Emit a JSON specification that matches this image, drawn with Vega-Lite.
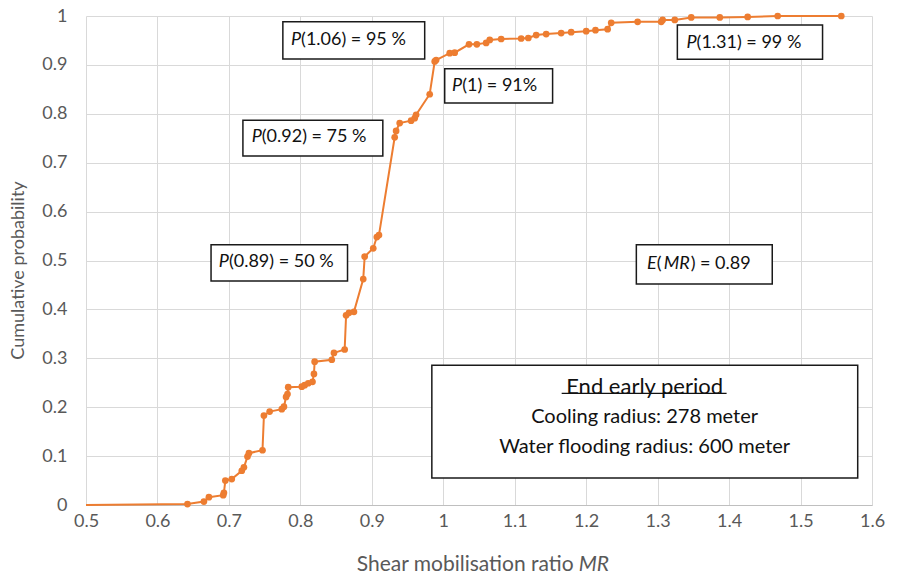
{
  "$schema": "https://vega.github.io/schema/vega-lite/v6.json",
  "width": 786,
  "height": 489,
  "autosize": {"type": "none"},
  "padding": {"left": 86, "top": 16, "right": 26, "bottom": 73},
  "background": "white",
  "config": {
    "view": {"stroke": null},
    "font": "Lato",
    "text": {"font": "Lato"}
  },
  "datasets": {
    "cdf": [
      {"mr": 0.5, "p": 0},
      {"mr": 0.642, "p": 0.002},
      {"mr": 0.665, "p": 0.007},
      {"mr": 0.672, "p": 0.016},
      {"mr": 0.692, "p": 0.02},
      {"mr": 0.693, "p": 0.025},
      {"mr": 0.695, "p": 0.05},
      {"mr": 0.704, "p": 0.053},
      {"mr": 0.718, "p": 0.07},
      {"mr": 0.721, "p": 0.077},
      {"mr": 0.726, "p": 0.099},
      {"mr": 0.728, "p": 0.106},
      {"mr": 0.747, "p": 0.112},
      {"mr": 0.749, "p": 0.183},
      {"mr": 0.757, "p": 0.191},
      {"mr": 0.774, "p": 0.196},
      {"mr": 0.777, "p": 0.201},
      {"mr": 0.78, "p": 0.221},
      {"mr": 0.782, "p": 0.227},
      {"mr": 0.783, "p": 0.241},
      {"mr": 0.802, "p": 0.242},
      {"mr": 0.806, "p": 0.245},
      {"mr": 0.811, "p": 0.249},
      {"mr": 0.817, "p": 0.252},
      {"mr": 0.819, "p": 0.268},
      {"mr": 0.82, "p": 0.293},
      {"mr": 0.844, "p": 0.297},
      {"mr": 0.847, "p": 0.311},
      {"mr": 0.862, "p": 0.318},
      {"mr": 0.864, "p": 0.388},
      {"mr": 0.868, "p": 0.393},
      {"mr": 0.875, "p": 0.395},
      {"mr": 0.888, "p": 0.462},
      {"mr": 0.89, "p": 0.508},
      {"mr": 0.902, "p": 0.525},
      {"mr": 0.907, "p": 0.548},
      {"mr": 0.91, "p": 0.552},
      {"mr": 0.932, "p": 0.752},
      {"mr": 0.934, "p": 0.765},
      {"mr": 0.939, "p": 0.781},
      {"mr": 0.955, "p": 0.786},
      {"mr": 0.96, "p": 0.791},
      {"mr": 0.962, "p": 0.798},
      {"mr": 0.981, "p": 0.84},
      {"mr": 0.988, "p": 0.907},
      {"mr": 0.99, "p": 0.91},
      {"mr": 1.009, "p": 0.924},
      {"mr": 1.016, "p": 0.925},
      {"mr": 1.036, "p": 0.942},
      {"mr": 1.047, "p": 0.942},
      {"mr": 1.06, "p": 0.945},
      {"mr": 1.065, "p": 0.951},
      {"mr": 1.081, "p": 0.953},
      {"mr": 1.109, "p": 0.954},
      {"mr": 1.119, "p": 0.955},
      {"mr": 1.13, "p": 0.961},
      {"mr": 1.144, "p": 0.963},
      {"mr": 1.165, "p": 0.965},
      {"mr": 1.179, "p": 0.967},
      {"mr": 1.2, "p": 0.969},
      {"mr": 1.213, "p": 0.971},
      {"mr": 1.23, "p": 0.973},
      {"mr": 1.235, "p": 0.986},
      {"mr": 1.272, "p": 0.988},
      {"mr": 1.305, "p": 0.988},
      {"mr": 1.307, "p": 0.992},
      {"mr": 1.324, "p": 0.992},
      {"mr": 1.347, "p": 0.997},
      {"mr": 1.387, "p": 0.997},
      {"mr": 1.426, "p": 0.998},
      {"mr": 1.468, "p": 1.0},
      {"mr": 1.557, "p": 1.0}
    ],
    "boxes": [
      {"x1": 0.7755, "x2": 0.974, "y1": 0.912, "y2": 0.988},
      {"x1": 1.002, "x2": 1.153, "y1": 0.822, "y2": 0.892},
      {"x1": 0.7196, "x2": 0.9154, "y1": 0.7137, "y2": 0.787},
      {"x1": 0.675, "x2": 0.866, "y1": 0.458, "y2": 0.532},
      {"x1": 1.3276, "x2": 1.5308, "y1": 0.9115, "y2": 0.9816},
      {"x1": 1.2702, "x2": 1.4604, "y1": 0.452, "y2": 0.532},
      {"x1": 0.984, "x2": 1.58, "y1": 0.0552, "y2": 0.286}
    ],
    "italicRight": [
      {"x": 0.801, "y": 0.951, "t": "P"},
      {"x": 1.0265, "y": 0.857, "t": "P"},
      {"x": 0.746, "y": 0.753, "t": "P"},
      {"x": 0.7, "y": 0.497, "t": "P"},
      {"x": 1.3545, "y": 0.945, "t": "P"},
      {"x": 1.2986, "y": 0.493, "t": "E"}
    ],
    "normalLeft": [
      {"x": 0.801, "y": 0.951, "t": "(1.06) = 95 %"},
      {"x": 1.0265, "y": 0.857, "t": "(1) = 91%"},
      {"x": 0.746, "y": 0.753, "t": "(0.92) = 75 %"},
      {"x": 0.7, "y": 0.497, "t": "(0.89) = 50 %"},
      {"x": 1.3545, "y": 0.945, "t": "(1.31) = 99 %"},
      {"x": 1.2986, "y": 0.493, "t": "("},
      {"x": 1.3462, "y": 0.493, "t": ") = 0.89"}
    ],
    "italicLeft": [
      {"x": 1.3084, "y": 0.493, "t": "MR"}
    ],
    "heading": [
      {"x": 1.2818, "y": 0.2419, "t": "End early period"}
    ],
    "bigText": [
      {"x": 1.2818, "y": 0.18, "t": "Cooling radius: 278 meter"},
      {"x": 1.2818, "y": 0.1186, "t": "Water flooding radius: 600 meter"}
    ],
    "underline": [
      {"x1": 1.1657, "x2": 1.3965, "y": 0.2284}
    ],
    "xtitleA": [{"x": 1.1825, "y": -0.1227, "t": "Shear mobilisation ratio"}],
    "xtitleB": [{"x": 1.1895, "y": -0.1227, "t": "MR"}]
  },
  "layer": [
    {
      "data": {"name": "cdf"},
      "mark": {"type": "line", "color": "#ED7D31", "strokeWidth": 2},
      "encoding": {
        "x": {
          "field": "mr",
          "type": "quantitative",
          "scale": {"domain": [0.5, 1.6], "nice": false, "zero": false},
          "axis": {
            "values": [0.5, 0.6, 0.7, 0.8, 0.9, 1.0, 1.1, 1.2, 1.3, 1.4, 1.5, 1.6],
            "format": ".1~f",
            "title": null,
            "grid": true,
            "gridColor": "#d9d9d9",
            "gridWidth": 1,
            "ticks": false,
            "domain": true,
            "domainColor": "#bfbfbf",
            "domainWidth": 1,
            "labelFont": "Lato",
            "labelFontSize": 18,
            "labelColor": "#595959",
            "labelPadding": 7,
            "labelFlush": false
          }
        },
        "y": {
          "field": "p",
          "type": "quantitative",
          "scale": {"domain": [0, 1], "nice": false},
          "axis": {
            "values": [0, 0.1, 0.2, 0.3, 0.4, 0.5, 0.6, 0.7, 0.8, 0.9, 1.0],
            "format": ".1~f",
            "title": "Cumulative probability",
            "titleFont": "Lato",
            "titleFontSize": 18,
            "titleFontWeight": "normal",
            "titleColor": "#595959",
            "titleAngle": 270,
            "titleX": -68,
            "titleY": 254,
            "titleAlign": "center",
            "titleBaseline": "middle",
            "grid": true,
            "gridColor": "#d9d9d9",
            "gridWidth": 1,
            "ticks": false,
            "domain": false,
            "labelFont": "Lato",
            "labelFontSize": 18,
            "labelColor": "#595959",
            "labelPadding": 19,
            "labelFlush": false
          }
        }
      }
    },
    {
      "data": {"name": "cdf"},
      "transform": [{"filter": "datum.mr > 0.5"}],
      "mark": {"type": "point", "filled": true, "color": "#ED7D31", "size": 45, "opacity": 1},
      "encoding": {
        "x": {"field": "mr", "type": "quantitative"},
        "y": {"field": "p", "type": "quantitative"}
      }
    },
    {
      "data": {"name": "boxes"},
      "mark": {"type": "rect", "fill": "white", "stroke": "#1a1a1a", "strokeWidth": 1.5},
      "encoding": {
        "x": {"field": "x1", "type": "quantitative"},
        "x2": {"field": "x2"},
        "y": {"field": "y1", "type": "quantitative"},
        "y2": {"field": "y2"}
      }
    },
    {
      "data": {"name": "italicRight"},
      "mark": {"type": "text", "align": "right", "baseline": "middle", "fontStyle": "italic", "fontSize": 18, "color": "#111111", "font": "Lato"},
      "encoding": {
        "x": {"field": "x", "type": "quantitative"},
        "y": {"field": "y", "type": "quantitative"},
        "text": {"field": "t"}
      }
    },
    {
      "data": {"name": "normalLeft"},
      "mark": {"type": "text", "align": "left", "baseline": "middle", "fontSize": 18, "color": "#111111", "font": "Lato"},
      "encoding": {
        "x": {"field": "x", "type": "quantitative"},
        "y": {"field": "y", "type": "quantitative"},
        "text": {"field": "t"}
      }
    },
    {
      "data": {"name": "italicLeft"},
      "mark": {"type": "text", "align": "left", "baseline": "middle", "fontStyle": "italic", "fontSize": 18, "color": "#111111", "font": "Lato"},
      "encoding": {
        "x": {"field": "x", "type": "quantitative"},
        "y": {"field": "y", "type": "quantitative"},
        "text": {"field": "t"}
      }
    },
    {
      "data": {"name": "heading"},
      "mark": {"type": "text", "align": "center", "baseline": "middle", "fontSize": 22, "color": "#111111", "font": "Lato"},
      "encoding": {
        "x": {"field": "x", "type": "quantitative"},
        "y": {"field": "y", "type": "quantitative"},
        "text": {"field": "t"}
      }
    },
    {
      "data": {"name": "bigText"},
      "mark": {"type": "text", "align": "center", "baseline": "middle", "fontSize": 20, "color": "#111111", "font": "Lato"},
      "encoding": {
        "x": {"field": "x", "type": "quantitative"},
        "y": {"field": "y", "type": "quantitative"},
        "text": {"field": "t"}
      }
    },
    {
      "data": {"name": "underline"},
      "mark": {"type": "rule", "color": "#111111", "strokeWidth": 1.2},
      "encoding": {
        "x": {"field": "x1", "type": "quantitative"},
        "x2": {"field": "x2"},
        "y": {"field": "y", "type": "quantitative"}
      }
    },
    {
      "data": {"name": "xtitleA"},
      "mark": {"type": "text", "align": "right", "baseline": "middle", "fontSize": 21, "color": "#595959", "font": "Lato"},
      "encoding": {
        "x": {"field": "x", "type": "quantitative"},
        "y": {"field": "y", "type": "quantitative"},
        "text": {"field": "t"}
      }
    },
    {
      "data": {"name": "xtitleB"},
      "mark": {"type": "text", "align": "left", "baseline": "middle", "fontSize": 21, "fontStyle": "italic", "color": "#595959", "font": "Lato"},
      "encoding": {
        "x": {"field": "x", "type": "quantitative"},
        "y": {"field": "y", "type": "quantitative"},
        "text": {"field": "t"}
      }
    }
  ]
}
